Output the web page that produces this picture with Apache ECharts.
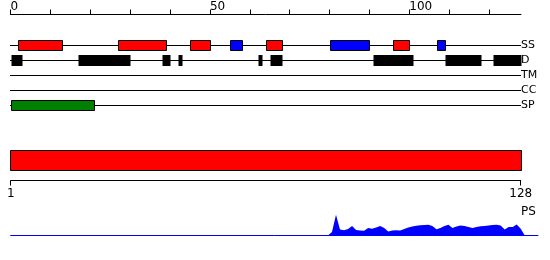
<!DOCTYPE html>
<html>
<head>
<meta charset="utf-8">
<script src="https://cdn.jsdelivr.net/npm/echarts@6/dist/echarts.min.js"></script>
<style>html,body{margin:0;padding:0;background:#fff}#c{width:550px;height:260px}</style>
</head>
<body>
<div id="c"></div>
<script>
const trackRows = ['SS', 'D', 'TM', 'CC', 'SP'];
const helixSegments = [[2, 13], [27, 39], [45, 50], [64, 68], [96, 100]];
const strandSegments = [[55, 58], [80, 90], [107, 109]];
const disorderSegments = [[0, 3], [17, 30], [38, 40], [42, 43], [62, 63], [65, 68], [91, 101], [109, 118], [121, 128]];
const signalSegments = [[0, 21]];
const topTickLabels = [0, 50, 100];
const proteinLength = 128;
const bottomTickLabels = [1, 128];
const psResidues = [80,81,82,83,84,85,86,87,88,89,90,91,92,93,94,95,96,97,98,99,100,101,102,103,104,105,106,107,108,109,110,111,112,113,114,115,116,117,118,119,120,121,122,123,124,125,126,127,128,129];
const psScores = [0,3.4,20.7,6,5.2,6.5,9.4,5.5,5,4.7,7.4,6.7,8,9.4,7.5,4,5,5.2,5,6.5,8,9,9.8,10.2,10.5,10.7,9.5,6.2,7.5,9.5,10.7,7.4,9,10,9.4,8.5,7.4,8.5,9.3,9.6,10,10.5,10.7,10,6,8.4,8.4,11,6.7,0];

const FONT = 'DejaVu Sans';
const chart = echarts.init(document.getElementById('c'), null, {renderer: 'canvas'});

function segData(list, row, color, stroke, half) {
  return list.map(s => ({value: [s[0], s[1], row], color: color, stroke: stroke, half: half}));
}
const segItems = []
  .concat(segData(helixSegments, 0, '#ff0000', true, 5))
  .concat(segData(strandSegments, 0, '#0000ff', true, 5))
  .concat(segData(disorderSegments, 1, '#000000', false, 5.5))
  .concat(segData(signalSegments, 4, '#008000', true, 5));

const option = {
  animation: false,
  backgroundColor: '#ffffff',
  textStyle: {fontFamily: FONT},
  grid: [
    {left: 10.5, right: 29, top: 38, height: 75},
    {left: 10.7, right: 29.3, top: 140, height: 40.5},
    {left: 10.7, right: 12, top: 210.5, height: 25}
  ],
  xAxis: [
    {
      gridIndex: 0, type: 'value', position: 'top', offset: 23.5,
      min: 0, max: proteinLength, interval: 10,
      splitLine: {show: false},
      axisLine: {show: true, lineStyle: {color: '#000', width: 1}},
      axisTick: {show: true, length: 5, lineStyle: {color: '#000'}},
      axisLabel: {
        color: '#000', fontSize: 12, fontFamily: FONT, align: 'left', margin: 2,
        showMaxLabel: false,
        formatter: v => topTickLabels.indexOf(v) >= 0 ? String(v) : ''
      }
    },
    {
      gridIndex: 1, type: 'value', position: 'bottom',
      min: 1, max: proteinLength,
      splitLine: {show: false},
      axisLine: {show: true, lineStyle: {color: '#000', width: 1}},
      axisTick: {show: true, length: 5, customValues: bottomTickLabels, lineStyle: {color: '#000'}},
      axisLabel: {color: '#000', fontSize: 12, fontFamily: FONT, margin: 7, customValues: bottomTickLabels}
    },
    {
      gridIndex: 2, type: 'value', min: 1, max: 132.3,
      splitLine: {show: false},
      axisLine: {show: true, lineStyle: {color: '#0000ff', width: 1}},
      axisTick: {show: false}, axisLabel: {show: false}
    }
  ],
  yAxis: [
    {
      gridIndex: 0, type: 'category', data: trackRows, inverse: true, position: 'right',
      axisLine: {show: false}, axisTick: {show: false}, splitLine: {show: false},
      axisLabel: {color: '#000', fontSize: 11, fontFamily: FONT, margin: 0, align: 'left'}
    },
    {gridIndex: 1, type: 'value', min: 0, max: 4, show: false},
    {gridIndex: 2, type: 'value', min: 0, max: 25, show: false}
  ],
  graphic: [
    {type: 'text', left: 521, top: 206, style: {text: 'PS', fontSize: 12, fontFamily: FONT, fill: '#000'}}
  ],
  series: [
    {
      type: 'custom', xAxisIndex: 0, yAxisIndex: 0, z: 1,
      data: trackRows.map((r, i) => [0, proteinLength, i]),
      renderItem: function (params, api) {
        const a = api.coord([api.value(0), api.value(2)]);
        const b = api.coord([api.value(1), api.value(2)]);
        const y = Math.round(a[1] - 0.5) + 0.5;
        return {type: 'line', shape: {x1: 10, y1: y, x2: b[0], y2: y}, style: {stroke: '#000', lineWidth: 1}};
      }
    },
    {
      type: 'custom', xAxisIndex: 0, yAxisIndex: 0, z: 2,
      data: segItems,
      renderItem: function (params, api) {
        const item = segItems[params.dataIndex];
        const a = api.coord([api.value(0), api.value(2)]);
        const b = api.coord([api.value(1), api.value(2)]);
        const x1 = Math.round(a[0]) + 0.5, x2 = Math.round(b[0]) + 0.5;
        const y = Math.round(a[1] - 0.5) + 0.5;
        return {
          type: 'rect',
          shape: {x: x1, y: y - item.half, width: x2 - x1, height: item.half * 2},
          style: {fill: item.color, stroke: item.stroke ? '#000' : null, lineWidth: item.stroke ? 1 : 0}
        };
      }
    },
    {
      type: 'custom', xAxisIndex: 1, yAxisIndex: 1, z: 2,
      data: [[1, proteinLength]],
      renderItem: function (params, api) {
        const a = api.coord([api.value(0), 3]);
        const b = api.coord([api.value(1), 1]);
        return {
          type: 'rect',
          shape: {x: 10.5, y: Math.round(a[1]) + 0.5, width: Math.round(b[0]) - 10, height: Math.round(b[1] - a[1])},
          style: {fill: '#ff0000', stroke: '#000', lineWidth: 1}
        };
      }
    },
    {
      type: 'line', xAxisIndex: 2, yAxisIndex: 2,
      data: psResidues.map((r, i) => [r, psScores[i]]),
      symbol: 'none', smooth: false,
      lineStyle: {width: 0, color: '#0000ff'},
      areaStyle: {color: '#0000ff', opacity: 1}
    }
  ]
};
chart.setOption(option);
</script>
</body>
</html>
